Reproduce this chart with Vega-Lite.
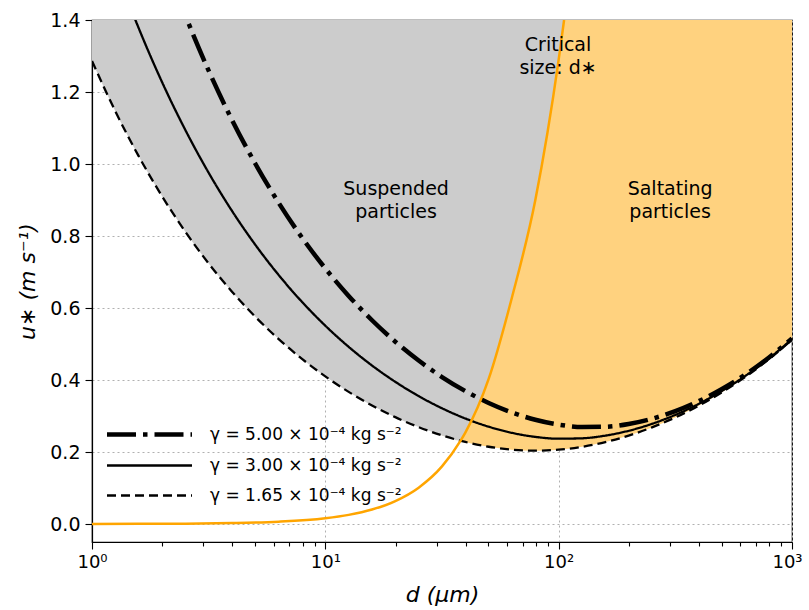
{
  "$schema": "https://vega.github.io/schema/vega-lite/v6.json",
  "width": 700,
  "height": 522,
  "autosize": {"type": "none"},
  "padding": {"left": 92, "top": 20, "right": 17, "bottom": 68},
  "config": {
    "font": "DejaVu Sans",
    "view": {"stroke": "black", "strokeWidth": 1.2},
    "axis": {
      "zindex": 1,
      "domainColor": "black",
      "domainWidth": 1.2,
      "tickColor": "black",
      "tickWidth": 1.1,
      "labelColor": "black",
      "labelFontSize": 19,
      "titleColor": "black",
      "titleFontSize": 22,
      "titleFontWeight": "normal",
      "gridColor": "#b0b0b0",
      "gridDash": [2, 3],
      "gridWidth": 1
    }
  },
  "datasets": {
    "curves": [
      {"d": 1, "g165": 1.2862, "g300": 1.7342, "g500": 2.2389},
      {"d": 1.259, "g165": 1.1464, "g300": 1.5457, "g500": 1.9954},
      {"d": 1.585, "g165": 1.0218, "g300": 1.3776, "g500": 1.7785},
      {"d": 1.995, "g165": 0.9108, "g300": 1.2279, "g500": 1.5851},
      {"d": 2.512, "g165": 0.8119, "g300": 1.0945, "g500": 1.4128},
      {"d": 3.162, "g165": 0.7238, "g300": 0.9756, "g500": 1.2593},
      {"d": 3.981, "g165": 0.6454, "g300": 0.8697, "g500": 1.1225},
      {"d": 5.012, "g165": 0.5756, "g300": 0.7755, "g500": 1.0007},
      {"d": 6.31, "g165": 0.5136, "g300": 0.6916, "g500": 0.8922},
      {"d": 7.943, "g165": 0.4586, "g300": 0.617, "g500": 0.7956},
      {"d": 10, "g165": 0.4099, "g300": 0.5508, "g500": 0.7098},
      {"d": 12.59, "g165": 0.367, "g300": 0.4921, "g500": 0.6336},
      {"d": 15.85, "g165": 0.3294, "g300": 0.4403, "g500": 0.566},
      {"d": 19.95, "g165": 0.2968, "g300": 0.3949, "g500": 0.5064},
      {"d": 25.12, "g165": 0.2691, "g300": 0.3553, "g500": 0.454},
      {"d": 31.62, "g165": 0.2461, "g300": 0.3215, "g500": 0.4083},
      {"d": 39.81, "g165": 0.2279, "g300": 0.2931, "g500": 0.3692},
      {"d": 50.12, "g165": 0.2146, "g300": 0.2703, "g500": 0.3363},
      {"d": 63.1, "g165": 0.2065, "g300": 0.2532, "g500": 0.3097},
      {"d": 79.43, "g165": 0.2038, "g300": 0.242, "g500": 0.2895},
      {"d": 100, "g165": 0.2064, "g300": 0.2369, "g500": 0.276},
      {"d": 125.9, "g165": 0.2144, "g300": 0.2381, "g500": 0.2695},
      {"d": 158.5, "g165": 0.2275, "g300": 0.2455, "g500": 0.2701},
      {"d": 199.5, "g165": 0.2456, "g300": 0.259, "g500": 0.2777},
      {"d": 251.2, "g165": 0.2684, "g300": 0.2783, "g500": 0.2923},
      {"d": 316.2, "g165": 0.2961, "g300": 0.3032, "g500": 0.3135},
      {"d": 398.1, "g165": 0.3285, "g300": 0.3336, "g500": 0.3411},
      {"d": 501.2, "g165": 0.366, "g300": 0.3696, "g500": 0.375},
      {"d": 631, "g165": 0.4087, "g300": 0.4114, "g500": 0.4152},
      {"d": 794.3, "g165": 0.4573, "g300": 0.4592, "g500": 0.4619},
      {"d": 1000, "g165": 0.5121, "g300": 0.5135, "g500": 0.5154}
    ],
    "crit": [
      {"d": 1, "u": 0.0002},
      {"d": 1.585, "u": 0.0004},
      {"d": 2.512, "u": 0.001},
      {"d": 3.981, "u": 0.0025},
      {"d": 6.31, "u": 0.0064},
      {"d": 10, "u": 0.016},
      {"d": 12.59, "u": 0.0254},
      {"d": 15.85, "u": 0.0403},
      {"d": 19.95, "u": 0.0638},
      {"d": 25.12, "u": 0.101},
      {"d": 31.62, "u": 0.16},
      {"d": 38.0, "u": 0.2316},
      {"d": 39.81, "u": 0.254},
      {"d": 50.12, "u": 0.403},
      {"d": 63.1, "u": 0.63},
      {"d": 79.43, "u": 0.9},
      {"d": 100, "u": 1.29},
      {"d": 105.5, "u": 1.4}
    ],
    "grayArea": [
      {"d": 1, "u": 1.2862},
      {"d": 1.259, "u": 1.1464},
      {"d": 1.585, "u": 1.0218},
      {"d": 1.995, "u": 0.9108},
      {"d": 2.512, "u": 0.8119},
      {"d": 3.162, "u": 0.7238},
      {"d": 3.981, "u": 0.6454},
      {"d": 5.012, "u": 0.5756},
      {"d": 6.31, "u": 0.5136},
      {"d": 7.943, "u": 0.4586},
      {"d": 10, "u": 0.4099},
      {"d": 12.59, "u": 0.367},
      {"d": 15.85, "u": 0.3294},
      {"d": 19.95, "u": 0.2968},
      {"d": 25.12, "u": 0.2691},
      {"d": 31.62, "u": 0.2461},
      {"d": 38.0, "u": 0.2316},
      {"d": 39.81, "u": 0.254},
      {"d": 50.12, "u": 0.403},
      {"d": 63.1, "u": 0.63},
      {"d": 79.43, "u": 0.9},
      {"d": 100, "u": 1.29},
      {"d": 105.5, "u": 1.4}
    ],
    "orangeArea": [
      {"d": 31.62, "u": 0.2461},
      {"d": 38.0, "u": 0.2316},
      {"d": 39.81, "u": 0.2279},
      {"d": 50.12, "u": 0.2146},
      {"d": 63.1, "u": 0.2065},
      {"d": 79.43, "u": 0.2038},
      {"d": 100, "u": 0.2064},
      {"d": 125.9, "u": 0.2144},
      {"d": 158.5, "u": 0.2275},
      {"d": 199.5, "u": 0.2456},
      {"d": 251.2, "u": 0.2684},
      {"d": 316.2, "u": 0.2961},
      {"d": 398.1, "u": 0.3285},
      {"d": 501.2, "u": 0.366},
      {"d": 631, "u": 0.4087},
      {"d": 794.3, "u": 0.4573},
      {"d": 1000, "u": 0.5121}
    ]
  },
  "layer": [
    {
      "data": {"name": "orangeArea"},
      "mark": {"type": "area", "color": "#FFD27F", "interpolate": "monotone", "clip": true},
      "encoding": {
        "x": {
          "field": "d", "type": "quantitative",
          "scale": {"type": "log", "domain": [1, 1000], "nice": false},
          "title": "d (μm)",
          "axis": {
            "values": [1, 2, 3, 4, 5, 6, 7, 8, 9, 10, 20, 30, 40, 50, 60, 70, 80, 90, 100, 200, 300, 400, 500, 600, 700, 800, 900, 1000],
            "labelExpr": "datum.value == 1 ? '10⁰' : datum.value == 10 ? '10¹' : datum.value == 100 ? '10²' : datum.value == 1000 ? '10³' : ''",
            "tickSize": {"condition": {"test": "datum.value == 1 || datum.value == 10 || datum.value == 100 || datum.value == 1000", "value": 7}, "value": 4},
            "gridOpacity": {"condition": {"test": "datum.value == 1 || datum.value == 10 || datum.value == 100 || datum.value == 1000", "value": 1}, "value": 0},
            "labelOffset": {"condition": {"test": "datum.value == 1000", "value": -5}, "value": 0},
            "labelOverlap": false,
            "labelFlush": false,
            "labelFontSize": 18,
            "labelPadding": 4,
            "titlePadding": 13,
            "titleFontStyle": "italic"
          }
        },
        "y": {
          "field": "u", "type": "quantitative",
          "scale": {"domain": [-0.05, 1.4], "nice": false, "zero": false},
          "title": "u∗ (m s⁻¹)",
          "axis": {
            "values": [0, 0.2, 0.4, 0.6, 0.8, 1.0, 1.2, 1.4],
            "format": ".1f",
            "tickSize": 7,
            "labelPadding": 5,
            "titlePadding": 10,
            "titleFontStyle": "italic"
          }
        },
        "y2": {"datum": 1.4}
      }
    },
    {
      "data": {"name": "grayArea"},
      "mark": {"type": "area", "color": "#CCCCCC", "interpolate": "monotone", "clip": true},
      "encoding": {
        "x": {"field": "d", "type": "quantitative", "title": "d (μm)"},
        "y": {"field": "u", "type": "quantitative", "title": "u∗ (m s⁻¹)"},
        "y2": {"datum": 1.4}
      }
    },
    {
      "data": {"name": "curves"},
      "transform": [{"fold": ["g500", "g300", "g165"], "as": ["key", "u"]}],
      "mark": {"type": "line", "color": "black", "interpolate": "monotone", "clip": true},
      "encoding": {
        "x": {"field": "d", "type": "quantitative", "title": "d (μm)"},
        "y": {"field": "u", "type": "quantitative", "title": "u∗ (m s⁻¹)"},
        "strokeWidth": {"condition": {"test": "datum.key === 'g500'", "value": 4.5}, "value": 2.3},
        "strokeDash": {
          "field": "key", "type": "nominal",
          "scale": {"domain": ["g500", "g300", "g165"], "range": [[29, 7, 4.5, 7], [1, 0], [9, 5]]},
          "legend": {
            "title": null,
            "orient": "none",
            "legendX": 15,
            "legendY": 406,
            "padding": 0,
            "symbolType": "stroke",
            "symbolSize": 7225,
            "symbolStrokeColor": "black",
            "symbolStrokeWidth": 2.5,
            "rowPadding": 12,
            "labelFontSize": 17,
            "labelColor": "black",
            "labelLimit": 400,
            "labelExpr": "datum.value == 'g500' ? 'γ = 5.00 × 10⁻⁴ kg s⁻²' : datum.value == 'g300' ? 'γ = 3.00 × 10⁻⁴ kg s⁻²' : 'γ = 1.65 × 10⁻⁴ kg s⁻²'",
            "encode": {
              "symbols": {"update": {"strokeWidth": {"signal": "datum.value == 'g500' ? 4.5 : 2.3"}, "x": {"value": 42.5}}},
              "labels": {"update": {"x": {"value": 103}}}
            }
          }
        }
      }
    },
    {
      "data": {"name": "crit"},
      "mark": {"type": "line", "color": "#FFA500", "strokeWidth": 2.5, "interpolate": "monotone", "clip": true},
      "encoding": {
        "x": {"field": "d", "type": "quantitative", "title": "d (μm)"},
        "y": {"field": "u", "type": "quantitative", "title": "u∗ (m s⁻¹)"}
      }
    },
    {
      "data": {"values": [{}]},
      "mark": {"type": "text", "fontSize": 19, "lineHeight": 23, "align": "center", "baseline": "middle", "color": "black"},
      "encoding": {
        "x": {"datum": 20.1, "type": "quantitative"},
        "y": {"datum": 0.931, "type": "quantitative"},
        "text": {"value": ["Suspended", "particles"]}
      }
    },
    {
      "data": {"values": [{}]},
      "mark": {"type": "text", "fontSize": 19, "lineHeight": 23, "align": "center", "baseline": "middle", "color": "black"},
      "encoding": {
        "x": {"datum": 300.3, "type": "quantitative"},
        "y": {"datum": 0.931, "type": "quantitative"},
        "text": {"value": ["Saltating", "particles"]}
      }
    },
    {
      "data": {"values": [{}]},
      "mark": {"type": "text", "fontSize": 19, "lineHeight": 23, "align": "center", "baseline": "middle", "color": "black"},
      "encoding": {
        "x": {"datum": 99.4, "type": "quantitative"},
        "y": {"datum": 1.33, "type": "quantitative"},
        "text": {"value": ["Critical", "size: d∗"]}
      }
    }
  ]
}
